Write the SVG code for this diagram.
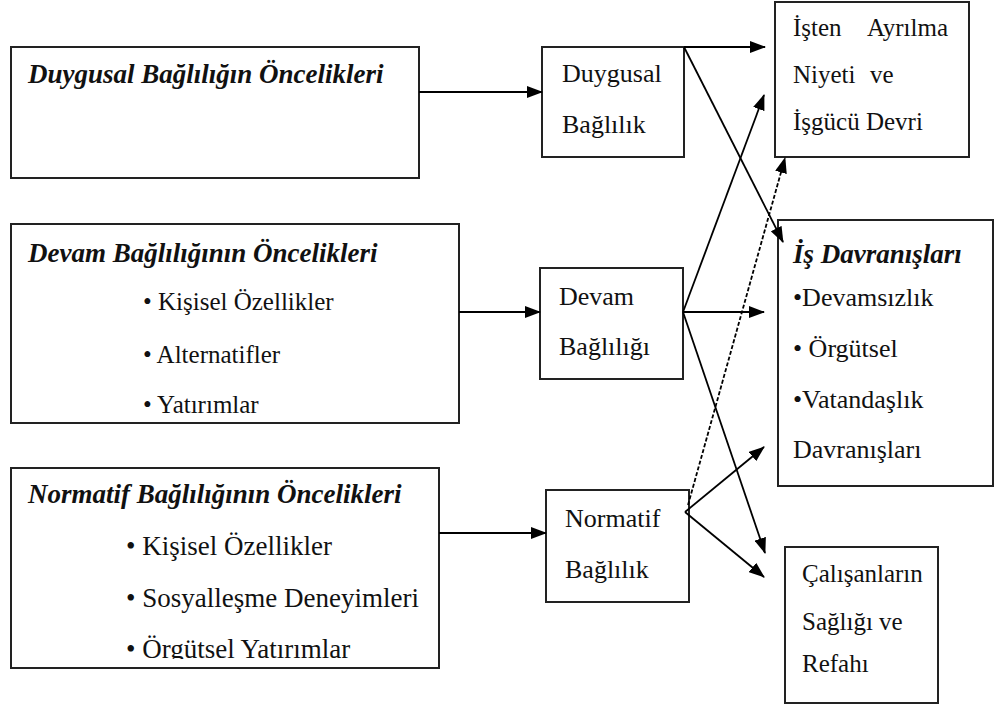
<svg xmlns="http://www.w3.org/2000/svg" width="996" height="706" viewBox="0 0 996 706">
<defs>
<marker id="ah" markerUnits="userSpaceOnUse" markerWidth="16" markerHeight="12" refX="15" refY="6" orient="auto">
<path d="M0,0 L16,6 L0,12 z" fill="#000"/>
</marker>
<clipPath id="clip3"><rect x="11" y="468" width="428" height="191"/></clipPath>
</defs>
<style>
.box{fill:#fff;stroke:#222;stroke-width:2}
.t{font-family:"Liberation Serif","Times New Roman",serif;font-size:25px;fill:#111}
.t26{font-size:26px}
.t27{font-size:27px}
.h{font-family:"Liberation Serif","Times New Roman",serif;font-size:27px;font-weight:bold;font-style:italic;fill:#111}
.c{stroke:#000;stroke-width:1.8;fill:none}
</style>
<rect width="996" height="706" fill="#fff"/>
<g id="n1">
<rect class="box" x="11" y="47" width="408" height="131"/>
<text class="h" x="28" y="83">Duygusal Bağlılığın Öncelikleri</text>
</g>
<g id="n2">
<rect class="box" x="11" y="224" width="448" height="199"/>
<text class="h" x="28" y="262">Devam Bağlılığının Öncelikleri</text>
<text class="t" x="143" y="310">• Kişisel Özellikler</text>
<text class="t" x="143" y="363">• Alternatifler</text>
<text class="t" x="143" y="413">• Yatırımlar</text>
</g>
<g id="n3">
<rect class="box" x="11" y="468" width="428" height="200"/>
<text class="h" x="28" y="503">Normatif Bağlılığının Öncelikleri</text>
<g clip-path="url(#clip3)">
<text class="t t27" x="126" y="555">• Kişisel Özellikler</text>
<text class="t t27" x="126" y="607">• Sosyalleşme Deneyimleri</text>
<text class="t t27" x="126" y="658">• Örgütsel Yatırımlar</text>
</g>
</g>
<g id="n4">
<rect class="box" x="542" y="47" width="142" height="110"/>
<text class="t t26" x="562" y="82">Duygusal</text>
<text class="t t26" x="562" y="133">Bağlılık</text>
</g>
<g id="n5">
<rect class="box" x="540" y="268" width="143" height="111"/>
<text class="t t26" x="559" y="305">Devam</text>
<text class="t t26" x="559" y="355">Bağlılığı</text>
</g>
<g id="n6">
<rect class="box" x="546" y="490" width="143" height="112"/>
<text class="t t26" x="565" y="527">Normatif</text>
<text class="t t26" x="565" y="578">Bağlılık</text>
</g>
<g id="n7">
<rect class="box" x="775" y="2" width="194" height="155"/>
<text class="t" x="793" y="36">İşten</text>
<text class="t" x="948" y="36" text-anchor="end">Ayrılma</text>
<text class="t" x="793" y="83">Niyeti</text>
<text class="t" x="870" y="83">ve</text>
<text class="t" x="793" y="130">İşgücü Devri</text>
</g>
<g id="n8">
<rect class="box" x="778" y="220" width="215" height="266"/>
<text class="h" x="793" y="263">İş Davranışları</text>
<text class="t t26" x="793" y="306">•Devamsızlık</text>
<text class="t t26" x="793" y="357">• Örgütsel</text>
<text class="t t26" x="793" y="408">•Vatandaşlık</text>
<text class="t t26" x="793" y="458">Davranışları</text>
</g>
<g id="n9">
<rect class="box" x="785" y="547" width="153" height="156"/>
<text class="t" x="802" y="582">Çalışanların</text>
<text class="t" x="802" y="630">Sağlığı ve</text>
<text class="t" x="802" y="672">Refahı</text>
</g>
<g id="connectors">
<line class="c" x1="419" y1="92" x2="542" y2="92" marker-end="url(#ah)"/>
<line class="c" x1="459" y1="312" x2="540" y2="312" marker-end="url(#ah)"/>
<line class="c" x1="439" y1="533" x2="546" y2="533" marker-end="url(#ah)"/>
<line class="c" x1="684" y1="47" x2="765" y2="47" marker-end="url(#ah)"/>
<line class="c" x1="684" y1="47" x2="783" y2="242" marker-end="url(#ah)"/>
<line class="c" x1="683" y1="312" x2="764" y2="95" marker-end="url(#ah)"/>
<line class="c" x1="683" y1="312" x2="764" y2="312" marker-end="url(#ah)"/>
<line class="c" x1="683" y1="312" x2="765" y2="553" marker-end="url(#ah)"/>
<line class="c" x1="688" y1="505" x2="785" y2="158" stroke-dasharray="4 2" marker-end="url(#ah)"/>
<line class="c" x1="685" y1="512" x2="764" y2="447" marker-end="url(#ah)"/>
<line class="c" x1="685" y1="512" x2="764" y2="577" marker-end="url(#ah)"/>
</g>
</svg>
